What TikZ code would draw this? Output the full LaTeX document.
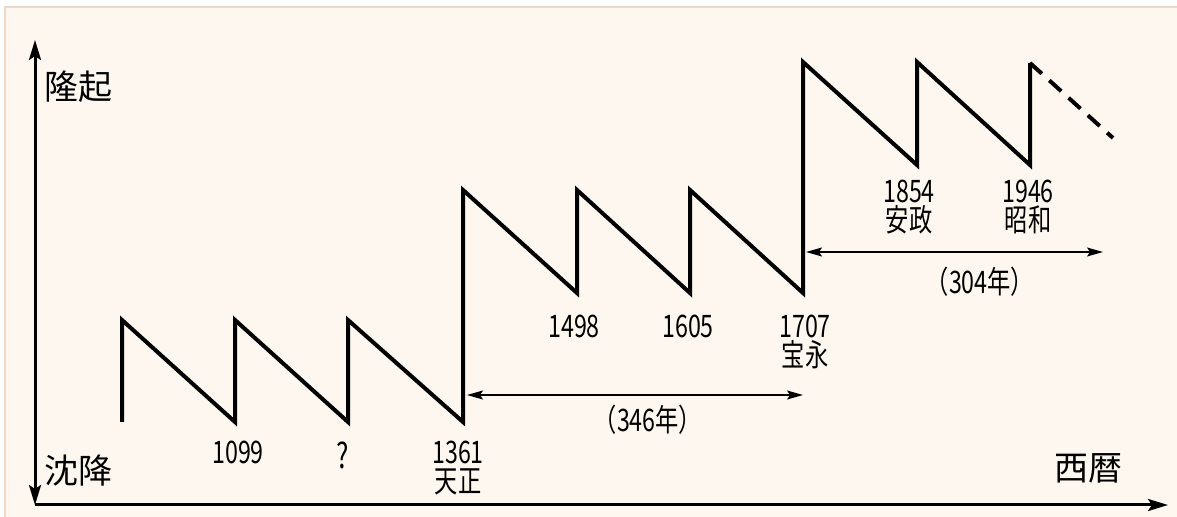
\documentclass[tikz,border=0pt]{standalone}
\usepackage{fontspec}
\setmainfont{Noto Sans CJK JP}
\newfontfamily\narrowfont[FakeStretch=0.75]{Noto Sans CJK JP}
\usetikzlibrary{arrows.meta}
\definecolor{paper}{HTML}{FEF7F0}
\definecolor{paperedge}{HTML}{F3D6C3}
\begin{document}
\begin{tikzpicture}[x=0.5pt,y=-0.5pt,
    axis/.style={
        line width=1.5pt,
        {Stealth[length=10pt,width=6pt,inset=2pt]}-{Stealth[length=10pt,width=6pt,inset=2pt]}
    },
    timeaxis/.style={
        line width=1.5pt,
        -{Stealth[length=10pt,width=6pt,inset=2pt]}
    },
    span/.style={
        line width=0.8pt,
        {Stealth[length=8pt,width=4.5pt,inset=1.5pt]}-{Stealth[length=8pt,width=4.5pt,inset=1.5pt]}
    },
    quake/.style={
        line width=2pt,
        line join=miter
    },
    axislabel/.style={
        font=\fontsize{17}{20}\selectfont,
        inner sep=0pt
    },
    yearlabel/.style={
        font=\narrowfont\fontsize{15.5}{14.5}\selectfont,
        align=center,
        inner sep=0pt,
        anchor=north
    }
]
    \useasboundingbox (0,0) rectangle (1177,517);
    \fill[paper] (5,7) rectangle (1177,517);
    \draw[paperedge, line width=0.6pt] (1177,7) -- (5,7) -- (5,517);

    % axes
    \coordinate (top) at (35,40);
    \coordinate (origin) at (35,505);
    \coordinate (right) at (1168,505);
    \draw[axis] (top) -- (origin);
    \draw[timeaxis] (origin) -- (right);
    \node[axislabel] (uplift) at (78,87) {隆起};
    \node[axislabel] (sink) at (78,471) {沈降};
    \node[axislabel] (era) at (1088,468) {西暦};

    % troughs and peaks
    \foreach \name/\x/\y in {s0/122/422, s1/235/422, s2/348/422, s3/463/422,
                             m1/577/293, m2/690/293, m3/803/293,
                             h1/917/165, h2/1030/165}
        \coordinate (\name) at (\x,\y);
    \foreach \name/\x/\y in {p0/122/320, p1/235/320, p2/348/320, p3/463/190,
                             p4/577/190, p5/690/190, p6/803/62,
                             p7/917/62, p8/1030/63}
        \coordinate (\name) at (\x,\y);
    \coordinate (next) at (1113,138);

    \draw[quake] (s0) -- (p0) -- (s1) -- (p1) -- (s2) -- (p2) -- (s3) -- (p3)
        -- (m1) -- (p4) -- (m2) -- (p5) -- (m3) -- (p6)
        -- (h1) -- (p7) -- (h2) -- (p8);
    \draw[quake, dash pattern=on 8pt off 5pt] (p8) -- (next);

    % years
    \node[yearlabel] (y1099) at (238,441) {1099};
    \node[yearlabel, font=\narrowfont\fontsize{17.5}{17.5}\selectfont] (yq) at (343,441) {?};
    \node[yearlabel] (y1361) at (458,441) {1361\\天正};
    \node[yearlabel] (y1498) at (574,315) {1498};
    \node[yearlabel] (y1605) at (688,315) {1605};
    \node[yearlabel] (y1707) at (805,315) {1707\\宝永};
    \node[yearlabel] (y1854) at (909,180) {1854\\安政};
    \node[yearlabel] (y1946) at (1028,180) {1946\\昭和};

    % intervals
    \coordinate (a1) at (467,395);
    \coordinate (a2) at (803,395);
    \coordinate (b1) at (806,252);
    \coordinate (b2) at (1103,252);
    \draw[span] (a1) -- (a2);
    \draw[span] (b1) -- (b2);
    \node[yearlabel] (gap1) at (648,405) {（346年）};
    \node[yearlabel] (gap2) at (980,267) {（304年）};
\end{tikzpicture}
\end{document}
